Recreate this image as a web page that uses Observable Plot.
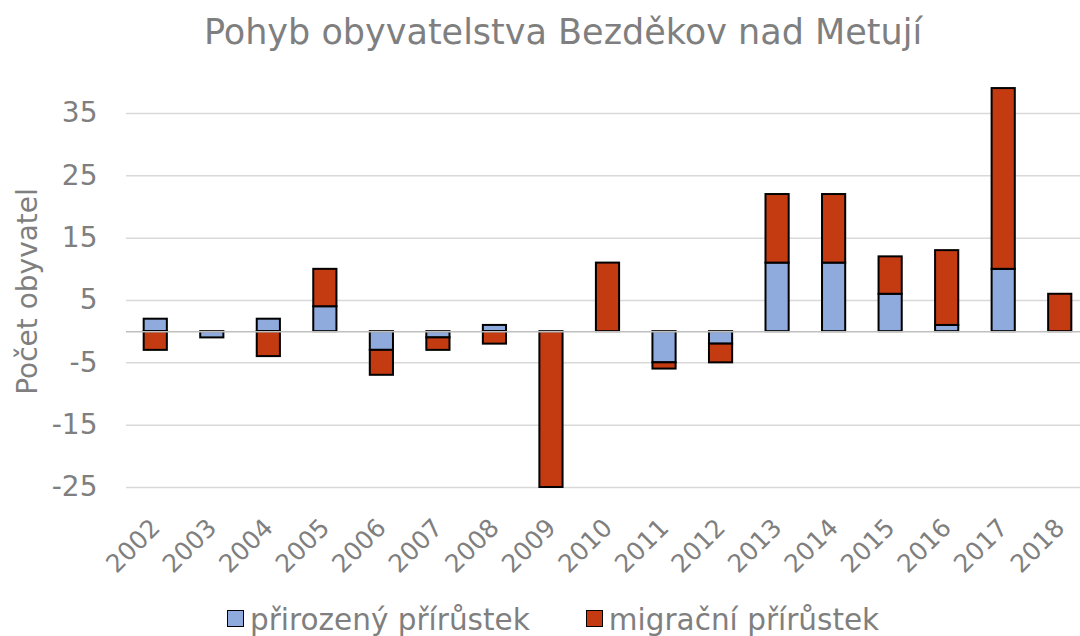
<!DOCTYPE html>
<html>
<head>
<meta charset="utf-8">
<script src="https://cdn.jsdelivr.net/npm/d3@7"></script>
<script src="https://cdn.jsdelivr.net/npm/@observablehq/plot@0.6"></script>
<style>
  html, body { margin: 0; padding: 0; background: #ffffff; }
  body { width: 1080px; height: 636px; overflow: hidden; font-family: "DejaVu Sans", Verdana, sans-serif; color: #7f7f7f; }
  #title { position: relative; height: 70px; }
  #title span { position: absolute; left: 563px; top: 15px; transform: translateX(-50%); font-size: 35px; line-height: 35px; white-space: nowrap; }
  #chart { height: 520px; }
  #legend { height: 46px; display: flex; justify-content: flex-start; align-items: flex-start; padding-left: 227px; box-sizing: border-box; font-size: 29.5px; line-height: 29.5px; }
  .item { display: flex; align-items: flex-start; }
  .item + .item { margin-left: 56px; }
  .sw { width: 15px; height: 15px; border: 1.5px solid #000; margin-right: 6px; margin-top: 20px; }
  .item span { margin-top: 16px; white-space: nowrap; }
</style>
</head>
<body>
<div id="title"><span>Pohyb obyvatelstva Bezděkov nad Metují</span></div>
<div id="chart"></div>
<div id="legend"></div>
<script>
const years = ["2002","2003","2004","2005","2006","2007","2008","2009","2010","2011","2012","2013","2014","2015","2016","2017","2018"];
const natural   = [2, -1, 2, 4, -3, -1, 1, 0, 0, -5, -2, 11, 11, 6, 1, 10, 0];
const migration = [-3, 0, -4, 6, -4, -2, -2, -25, 11, -1, -3, 11, 11, 6, 12, 29, 6];
const seriesNames = ["přirozený přírůstek", "migrační přírůstek"];
const seriesColors = ["#8FAADC", "#C43B12"];
const yTicks = [-25, -15, -5, 5, 15, 25, 35];
const yLabel = "Počet obyvatel";

const rows = [];
years.forEach((yr, i) => {
  rows.push({year: yr, series: seriesNames[0], value: natural[i]});
  rows.push({year: yr, series: seriesNames[1], value: migration[i]});
});
const data = rows.filter(d => d.value !== 0);

const plot = Plot.plot({
  width: 1080,
  height: 520,
  marginLeft: 126,
  marginRight: 0,
  marginTop: 43,
  marginBottom: 103,
  style: { fontFamily: "DejaVu Sans, Verdana, sans-serif", color: "#7f7f7f", background: "#ffffff", overflow: "visible" },
  x: { domain: years, range: [127, 1088], paddingInner: 0.59, paddingOuter: 0.295, align: 0.5, round: false },
  y: { domain: [-25, 35] },
  color: { domain: seriesNames, range: seriesColors },
  marks: [
    Plot.gridY(yTicks, { stroke: "#d9d9d9", strokeWidth: 1.5, strokeOpacity: 1 }),
    Plot.barY(data, { x: "year", y: "value", fill: "series", stroke: "#000000", strokeWidth: 2 }),
    Plot.ruleY([0], { stroke: "#bfbfbf", strokeWidth: 1.5 }),
    Plot.axisY(yTicks, { tickSize: 0, tickPadding: 29, fontSize: 28, label: null, tickFormat: d => String(d) }),
    Plot.axisX({ tickSize: 0, tickPadding: 36, tickRotate: -45, fontSize: 25, label: null }),
    Plot.text([yLabel], { text: d => d, frameAnchor: "left", textAnchor: "middle", rotate: -90, dx: -98, dy: -9, fontSize: 28, fill: "#7f7f7f" })
  ]
});
document.getElementById("chart").appendChild(plot);

const legend = document.getElementById("legend");
seriesNames.forEach((name, i) => {
  const item = document.createElement("div");
  item.className = "item";
  const sw = document.createElement("div");
  sw.className = "sw";
  sw.style.background = seriesColors[i];
  const t = document.createElement("span");
  t.textContent = name;
  item.appendChild(sw);
  item.appendChild(t);
  legend.appendChild(item);
});
</script>
</body>
</html>
